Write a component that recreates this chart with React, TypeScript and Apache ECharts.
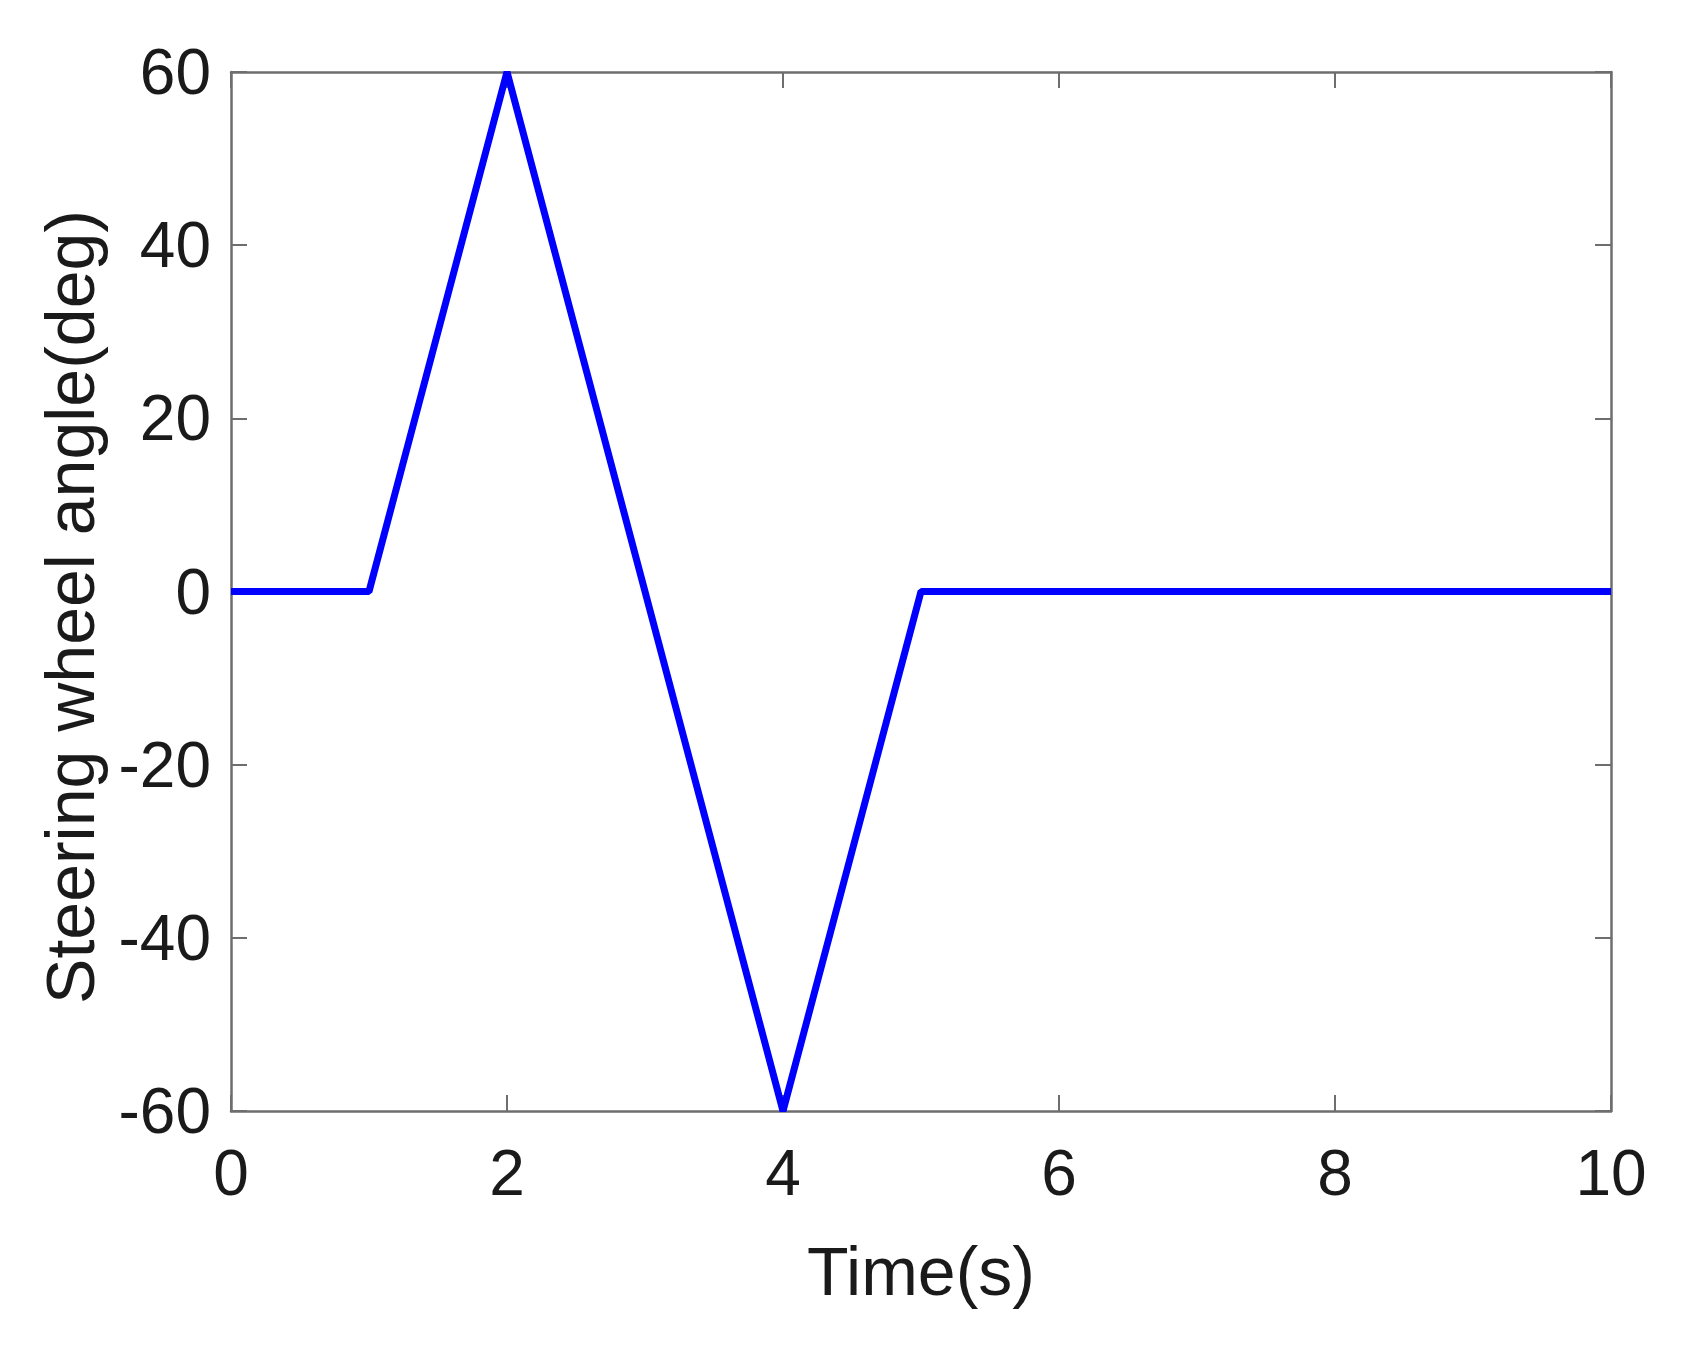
import React, { useEffect, useRef } from "react";
import * as echarts from "echarts";

const timeValues = [0, 1, 2, 4, 5, 10];
const angleValues = [0, 0, 60, -60, 0, 0];
const xTicks = [0, 2, 4, 6, 8, 10];
const yTicks = [-60, -40, -20, 0, 20, 40, 60];
const xName = "Time(s)";
const yName = "Steering wheel angle(deg)";

export default function App() {
  const ref = useRef<HTMLDivElement>(null);
  useEffect(() => {
    const chart = echarts.init(ref.current!, null, { renderer: "svg" });
    const font = "Liberation Sans, Arial, sans-serif";
    const axisLine = { show: true, onZero: false, lineStyle: { color: "#6e6e6e", width: 2.5 } };
    const tick = { show: true, inside: true, length: 16, lineStyle: { color: "#6e6e6e", width: 2 } };
    chart.setOption({
      animation: false,
      backgroundColor: "#ffffff",
      grid: { left: 231, top: 72, width: 1380, height: 1039, containLabel: false },
      xAxis: [
        {
          type: "value",
          min: xTicks[0],
          max: xTicks[xTicks.length - 1],
          interval: 2,
          position: "bottom",
          axisLine,
          axisTick: tick,
          splitLine: { show: false },
          axisLabel: { fontSize: 64, color: "#1a1a1a", fontFamily: font, margin: 30 },
          name: xName,
          nameLocation: "middle",
          nameGap: 126,
          nameTextStyle: { fontSize: 68, color: "#1a1a1a", fontFamily: font },
        },
        {
          type: "value",
          min: xTicks[0],
          max: xTicks[xTicks.length - 1],
          interval: 2,
          position: "top",
          axisLine,
          axisTick: tick,
          splitLine: { show: false },
          axisLabel: { show: false },
        },
      ],
      yAxis: [
        {
          type: "value",
          min: yTicks[0],
          max: yTicks[yTicks.length - 1],
          interval: 20,
          position: "left",
          axisLine,
          axisTick: tick,
          splitLine: { show: false },
          axisLabel: { fontSize: 64, color: "#1a1a1a", fontFamily: font, margin: 20 },
        },
        {
          type: "value",
          min: yTicks[0],
          max: yTicks[yTicks.length - 1],
          interval: 20,
          position: "right",
          axisLine,
          axisTick: tick,
          splitLine: { show: false },
          axisLabel: { show: false },
        },
      ],
      graphic: [
        {
          type: "text",
          x: 70,
          y: 607,
          rotation: Math.PI / 2,
          style: {
            text: yName,
            fontSize: 68,
            fill: "#1a1a1a",
            fontFamily: font,
            align: "center",
            verticalAlign: "middle",
          },
        },
      ],
      series: [
        {
          type: "line",
          data: timeValues.map((t, i) => [t, angleValues[i]]),
          showSymbol: false,
          symbol: "none",
          lineStyle: { color: "#0000ff", width: 7 },
          z: 5,
        },
      ],
    });
    return () => chart.dispose();
  }, []);
  return (
    <div
      ref={ref}
      style={{ position: "absolute", left: 0, top: 0, width: 1684, height: 1353 }}
    />
  );
}
